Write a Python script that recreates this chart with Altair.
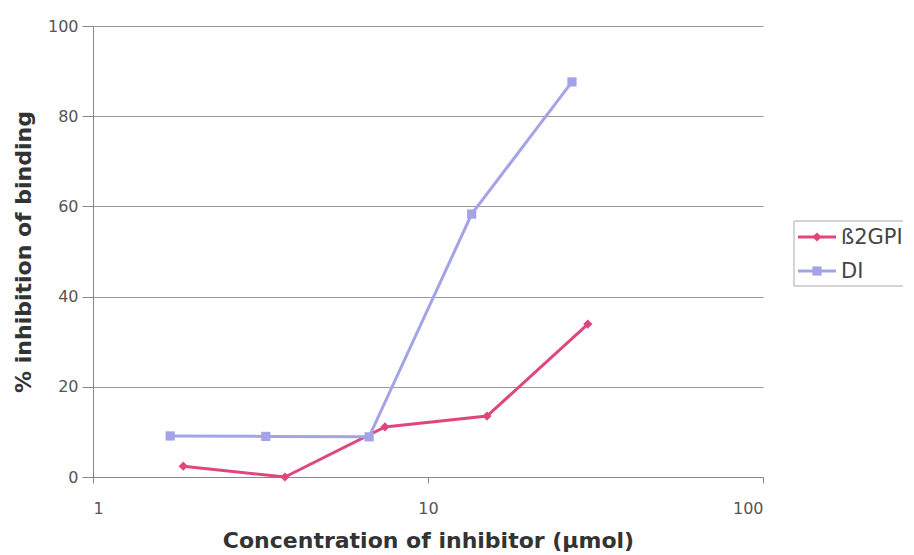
import altair as alt
import pandas as pd

conc_b2 = [1.86, 3.74, 7.44, 15.0, 30.0]
inh_b2 = [2.4, 0.0, 11.1, 13.5, 33.9]
conc_di = [1.70, 3.28, 6.67, 13.5, 26.9]
inh_di = [9.1, 9.0, 8.9, 58.3, 87.6]
series = ["ß2GPI", "DI"]
colors = ["#E0467E", "#A3A3E6"]
shapes = ["diamond", "square"]

df = pd.concat([
    pd.DataFrame({"conc": conc_b2, "inh": inh_b2, "series": series[0], "order": range(5)}),
    pd.DataFrame({"conc": conc_di, "inh": inh_di, "series": series[1], "order": range(5)}),
])

FONT = "DejaVu Sans"
xenc = alt.X("conc:Q", scale=alt.Scale(type="log", domain=[1, 100]),
             axis=alt.Axis(title="Concentration of inhibitor (µmol)", values=[1, 10, 100],
                           format="d", grid=False, tickSize=6, labelPadding=17,
                           titlePadding=14))
yenc = alt.Y("inh:Q", scale=alt.Scale(domain=[0, 100]),
             axis=alt.Axis(title="% inhibition of binding", values=[0, 20, 40, 60, 80, 100],
                           grid=True, tickSize=11, labelPadding=4, titlePadding=12))
cenc = alt.Color("series:N", scale=alt.Scale(domain=series, range=colors), legend=None)

line = alt.Chart(df).mark_line(strokeWidth=3).encode(
    x=xenc, y=yenc, color=cenc, detail="series:N", order="order:Q")
pts = alt.Chart(df).mark_point(filled=True, size=85, opacity=1).encode(
    x=xenc, y=yenc, color=cenc,
    shape=alt.Shape("series:N", scale=alt.Scale(domain=series, range=shapes), legend=None))

# legend
leg_box = alt.Chart(pd.DataFrame({"a": [0]})).mark_rect(
    fill="white", stroke="#aaaaaa", strokeWidth=1).encode(
    x=alt.value(701), x2=alt.value(818), y=alt.value(195), y2=alt.value(260))
leg_layers = [leg_box]
for i, (s, c, sh) in enumerate(zip(series, colors, shapes)):
    yy = 211 + 34 * i
    d = pd.DataFrame({"label": [s]})
    leg_layers.append(alt.Chart(d).mark_rule(color=c, strokeWidth=3).encode(
        x=alt.value(705), x2=alt.value(743), y=alt.value(yy)))
    leg_layers.append(alt.Chart(d).mark_point(filled=True, size=85, opacity=1, color=c, shape=sh).encode(
        x=alt.value(724), y=alt.value(yy)))
    leg_layers.append(alt.Chart(d).mark_text(align="left", baseline="middle", fontSize=21,
                                             font=FONT, color="#444444").encode(
        x=alt.value(748), y=alt.value(yy + 1), text="label:N"))

chart = alt.layer(line, pts, *leg_layers).properties(
    width=670, height=451,
    background="white",
    autosize=alt.AutoSizeParams(type="none"),
    padding={"left": 85, "top": 18, "right": 140, "bottom": 78},
).configure_view(stroke=None).configure_axis(
    labelFont=FONT, titleFont=FONT, labelFontSize=16, labelColor="#555555",
    titleFontSize=22, titleFontWeight="bold", titleColor="#333333",
    domainColor="#888888", tickColor="#888888", gridColor="#999999",
    gridWidth=1, domainWidth=1,
)

chart.save("out.html", embed_options={"renderer": "svg", "actions": False})
